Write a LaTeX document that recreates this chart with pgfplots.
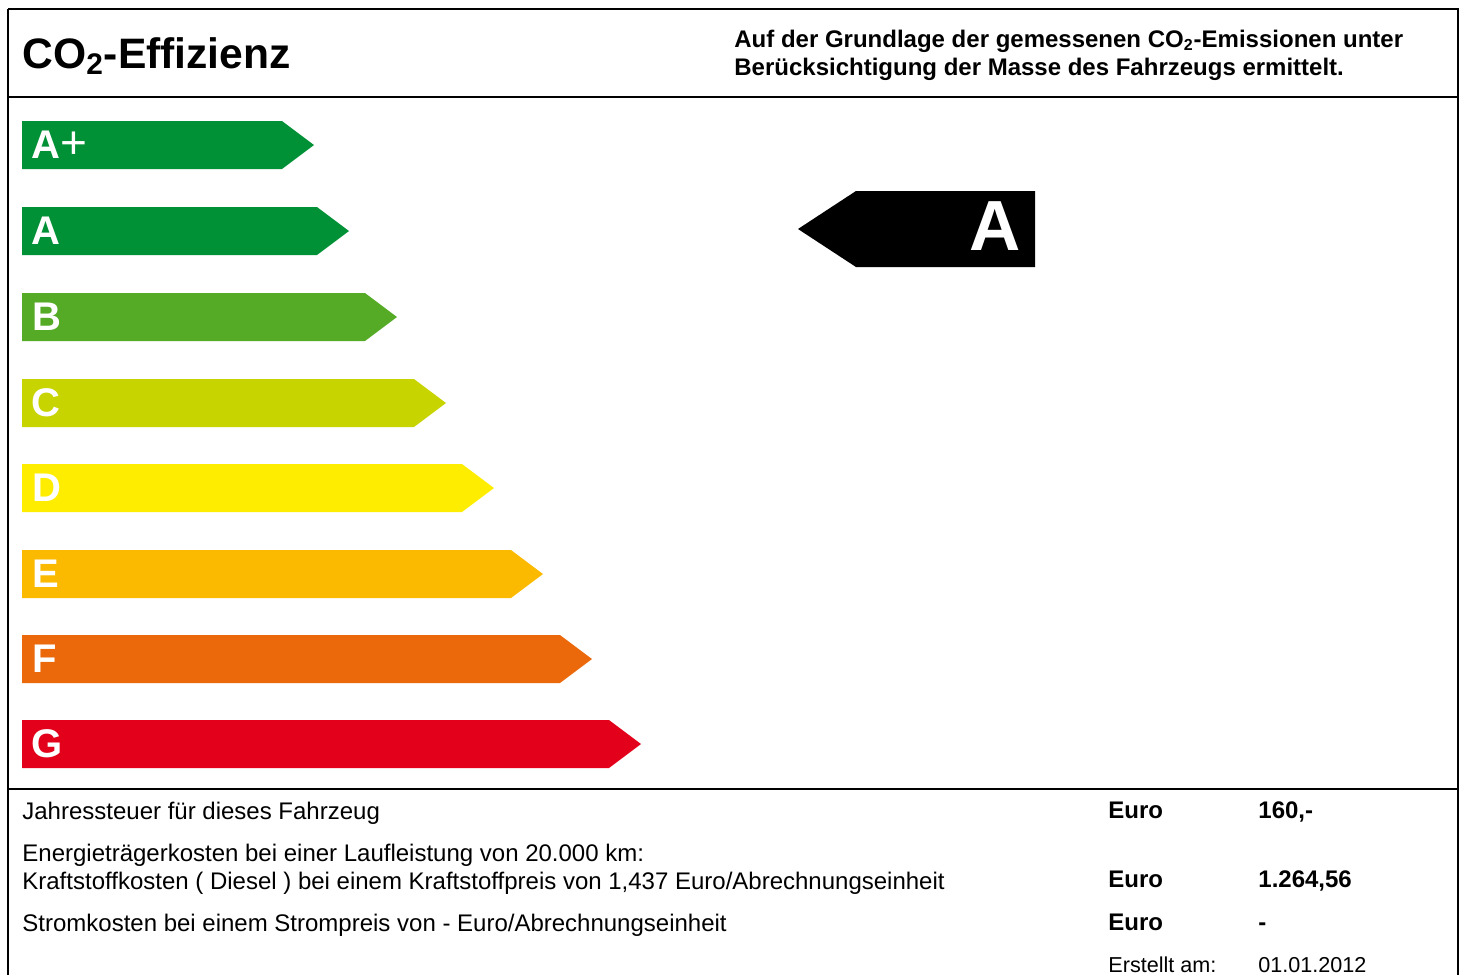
\documentclass[border=0pt]{standalone}
\usepackage{pgfplots}
\pgfplotsset{compat=1.18}
\usepackage{fontspec}
\setmainfont{Liberation Sans}
\definecolor{cAp}{HTML}{009036}
\definecolor{cA}{HTML}{009036}
\definecolor{cB}{HTML}{55AB26}
\definecolor{cC}{HTML}{C8D400}
\definecolor{cD}{HTML}{FFED00}
\definecolor{cE}{HTML}{FBBA00}
\definecolor{cF}{HTML}{EB690B}
\definecolor{cG}{HTML}{E2001A}
\begin{document}
\begin{tikzpicture}
\useasboundingbox (0,0) rectangle (732pt,487.5pt);
\begin{axis}[
  at={(0,0)}, anchor=south west,
  scale only axis, width=732pt, height=487.5pt,
  xmin=0, xmax=1464, ymin=0, ymax=975, y dir=reverse,
  axis lines=none, ticks=none, clip=false,
]
% class arrows: left x, top y, bottom y, end of rectangle, tip x
\addplot[fill=cAp, draw=none] coordinates {(22,121) (282,121) (314,145) (282,169) (22,169)} -- cycle;
\addplot[fill=cA, draw=none] coordinates {(22,207) (317,207) (349,231) (317,255) (22,255)} -- cycle;
\addplot[fill=cB, draw=none] coordinates {(22,293) (365,293) (397,317) (365,341) (22,341)} -- cycle;
\addplot[fill=cC, draw=none] coordinates {(22,379) (414,379) (446,403) (414,427) (22,427)} -- cycle;
\addplot[fill=cD, draw=none] coordinates {(22,464) (462,464) (494,488) (462,512) (22,512)} -- cycle;
\addplot[fill=cE, draw=none] coordinates {(22,550) (511,550) (543,574) (511,598) (22,598)} -- cycle;
\addplot[fill=cF, draw=none] coordinates {(22,635) (560,635) (592,659) (560,683) (22,683)} -- cycle;
\addplot[fill=cG, draw=none] coordinates {(22,720) (609,720) (641,744) (609,768) (22,768)} -- cycle;
% vehicle class indicator
\addplot[fill=black, draw=none] coordinates {(798,229) (856,191) (1035,191) (1035,267) (856,267)} -- cycle;

% frame
\draw[line width=1pt] (axis cs:8,9) -- (axis cs:1458,9) -- (axis cs:1458,990) (axis cs:8,990) -- (axis cs:8,9);
\draw[line width=1pt] (axis cs:8,97) -- (axis cs:1458,97);
\draw[line width=1pt] (axis cs:8,789) -- (axis cs:1458,789);

% header
\node[anchor=base west, inner sep=0pt, font=\fontsize{21.3}{25}\selectfont\bfseries] at (axis cs:22,68) {CO\textsubscript{2}-Effizienz};
\node[anchor=base west, inner sep=0pt, font=\fontsize{12}{14}\selectfont\bfseries] at (axis cs:734,47) {Auf der Grundlage der gemessenen CO\textsubscript{2}-Emissionen unter};
\node[anchor=base west, inner sep=0pt, font=\fontsize{12}{14}\selectfont\bfseries] at (axis cs:734,75) {Berücksichtigung der Masse des Fahrzeugs ermittelt.};

% class letters
\begin{scope}[every node/.style={anchor=base west, inner sep=0pt, text=white, font=\fontsize{20}{23}\selectfont\bfseries}]
\node at (axis cs:31,158) {A{\fontsize{23}{23}\selectfont\mdseries+}};
\node at (axis cs:31,244) {A};
\node at (axis cs:32,330) {B};
\node at (axis cs:31,416) {C};
\node at (axis cs:32,501) {D};
\node at (axis cs:32,587) {E};
\node at (axis cs:32,672) {F};
\node at (axis cs:31,757) {G};
\end{scope}
\node[anchor=base east, inner sep=0pt, text=white, font=\fontsize{35.5}{40}\selectfont\bfseries] at (axis cs:1021,250) {A};

% bottom section
\begin{scope}[every node/.style={anchor=base west, inner sep=0pt, font=\fontsize{12}{14}\selectfont}]
\node at (axis cs:22,819) {Jahressteuer für dieses Fahrzeug};
\node at (axis cs:22,861) {Energieträgerkosten bei einer Laufleistung von 20.000 km:};
\node at (axis cs:22,889) {Kraftstoffkosten ( Diesel ) bei einem Kraftstoffpreis von 1,437 Euro/Abrechnungseinheit};
\node at (axis cs:22,931) {Stromkosten bei einem Strompreis von - Euro/Abrechnungseinheit};
\node[font=\fontsize{12}{14}\selectfont\bfseries] at (axis cs:1108,818) {Euro};
\node[font=\fontsize{12}{14}\selectfont\bfseries] at (axis cs:1258,818) {160,-};
\node[font=\fontsize{12}{14}\selectfont\bfseries] at (axis cs:1108,887) {Euro};
\node[font=\fontsize{12}{14}\selectfont\bfseries] at (axis cs:1258,887) {1.264,56};
\node[font=\fontsize{12}{14}\selectfont\bfseries] at (axis cs:1108,930) {Euro};
\node[font=\fontsize{12}{14}\selectfont\bfseries] at (axis cs:1258,930) {-};
\node[font=\fontsize{10.8}{13}\selectfont] at (axis cs:1108,972) {Erstellt am:};
\node[font=\fontsize{10.8}{13}\selectfont] at (axis cs:1258,972) {01.01.2012};
\end{scope}
\end{axis}
\end{tikzpicture}
\end{document}
